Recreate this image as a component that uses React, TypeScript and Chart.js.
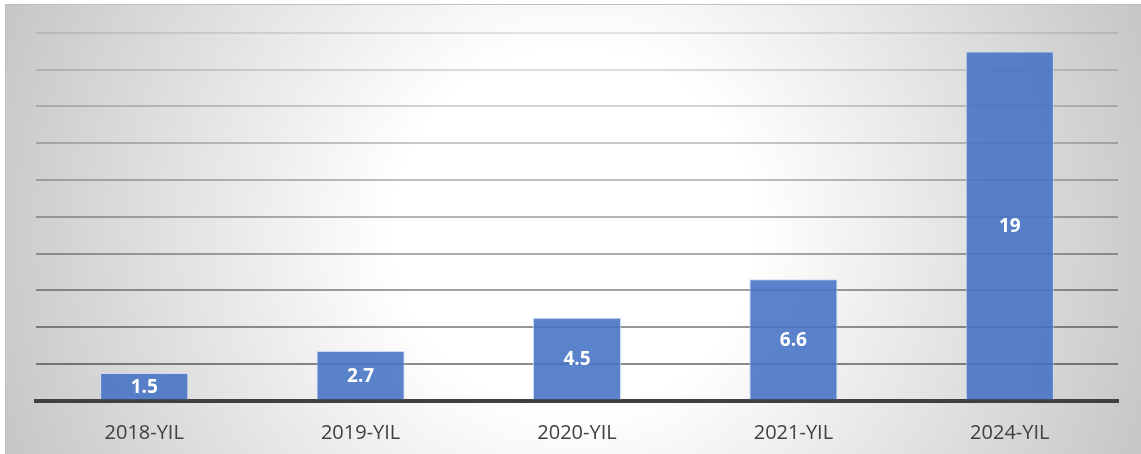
import React, { useEffect, useRef } from "react";
import { Chart, registerables } from "chart.js";

Chart.register(...registerables);

const categories = ["2018-YIL", "2019-YIL", "2020-YIL", "2021-YIL", "2024-YIL"];
const values = [1.5, 2.7, 4.5, 6.6, 19];
const yMin = 0;
const yMax = 20;
const yStep = 2;

const valueLabelPlugin = {
  id: "valueLabels",
  afterDraw(chart: any) {
    const ctx = chart.ctx;
    const meta = chart.getDatasetMeta(0);
    ctx.save();
    ctx.fillStyle = "#ffffff";
    ctx.font = "bold 19px 'Open Sans'";
    ctx.textAlign = "center";
    ctx.textBaseline = "middle";
    meta.data.forEach((el: any, i: number) => {
      const v = chart.data.datasets[0].data[i];
      const y = (el.y + el.base) / 2;
      ctx.fillText(String(v), el.x, y + 1);
    });
    ctx.restore();
  },
};

export default function App() {
  const ref = useRef<HTMLCanvasElement | null>(null);
  useEffect(() => {
    if (!ref.current) return;
    const chart = new Chart(ref.current, {
      type: "bar",
      data: {
        labels: categories,
        datasets: [
          {
            data: values,
            backgroundColor: "rgba(68,114,196,0.88)",
            borderColor: "rgba(200,214,240,0.9)",
            borderWidth: 1,
            categoryPercentage: 1,
            barPercentage: 0.407,
          },
        ],
      },
      options: {
        animation: false,
        responsive: false,
        maintainAspectRatio: false,
        layout: { padding: { top: 28, right: 23, left: 0, bottom: 0 } },
        plugins: {
          legend: { display: false },
          tooltip: { enabled: false },
        },
        scales: {
          x: {
            z: 2,
            grid: { display: false },
            border: { display: true, color: "#404040", width: 4 },
            ticks: {
              color: "#404040",
              font: { family: "'Open Sans'", size: 20 },
              padding: 13,
            },
            afterFit: (s: any) => {
              s.height = 53.5;
            },
          },
          y: {
            z: 1,
            min: yMin,
            max: yMax,
            ticks: { display: false, stepSize: yStep },
            border: { display: false },
            grid: {
              drawTicks: false,
              lineWidth: 2,
              color: (c: any) => {
                const v = c.tick ? c.tick.value : 0;
                if (v <= 0) return "rgba(0,0,0,0)";
                const a = 0.1 + ((20 - v) / 18) * 0.35;
                return `rgba(0,0,0,${a.toFixed(3)})`;
              },
            },
            afterFit: (s: any) => {
              s.width = 30;
            },
          },
        },
      },
      plugins: [valueLabelPlugin],
    });
    return () => chart.destroy();
  }, []);

  return (
    <div
      style={{
        position: "absolute",
        left: 5,
        top: 4,
        width: 1136,
        height: 450,
        boxSizing: "border-box",
        borderTop: "1px solid #bfbfbf",
        borderLeft: "1px solid #bfbfbf",
        background:
          "radial-gradient(circle at 50% 50%, #ffffff 0px, #ffffff 180px, #c2c2c2 640px)",
        overflow: "hidden",
      }}
    >
      <canvas ref={ref} width={1135} height={449} style={{ display: "block" }} />
    </div>
  );
}
